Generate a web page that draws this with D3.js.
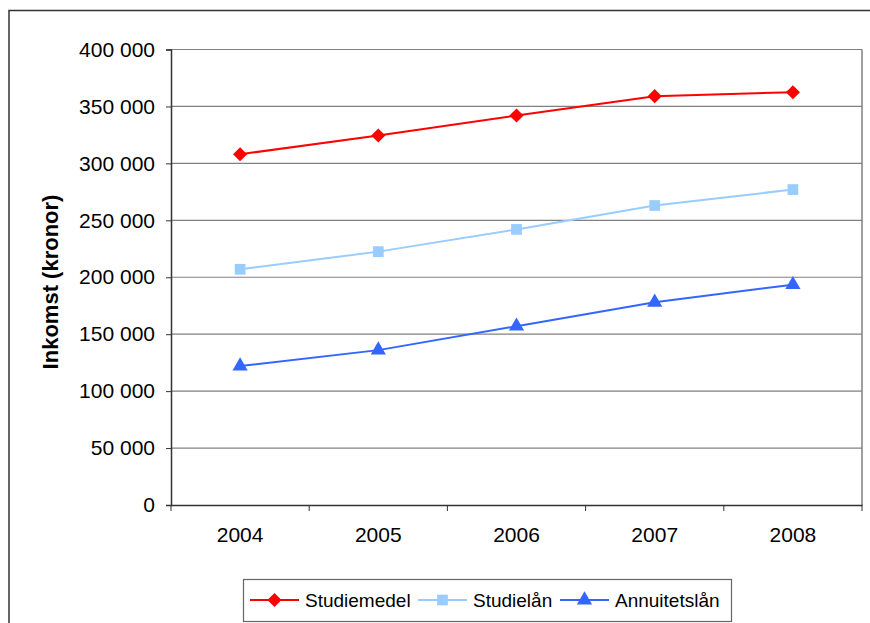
<!DOCTYPE html>
<meta charset="utf-8">
<style>
body { margin: 0; background: #fff; }
svg text { font-family: "Liberation Sans", Arial, sans-serif; fill: #000; }
.grid line { stroke: #808080; stroke-width: 1.2px; }
</style>
<body>
<svg id="chart" width="870" height="623"></svg>
<script src="https://d3js.org/d3.v7.min.js"></script>
<script>

var years = ["2004", "2005", "2006", "2007", "2008"];
var studiemedel = [308000, 324500, 342000, 359000, 362500];
var studielan = [207000, 222500, 242000, 263000, 277000];
var annuitetslan = [122000, 136000, 157000, 178000, 193500];
var yTicks = [0, 50000, 100000, 150000, 200000, 250000, 300000, 350000, 400000];

var series = [
  {name: "Studiemedel", values: studiemedel, color: "#ff0000", symbol: d3.symbolSquare, size: 100, rot: 45},
  {name: "Studielån", values: studielan, color: "#99ccff", symbol: d3.symbolSquare, size: 115, rot: 0},
  {name: "Annuitetslån", values: annuitetslan, color: "#3366ff", symbol: d3.symbolTriangle, size: 100, rot: 0}
];

var svg = d3.select("#chart");
var plotL = 171, plotR = 862, plotT = 49.5, plotB = 505;

// outer frame, runs off the right and bottom edges
svg.append("rect")
   .attr("x", 9).attr("y", 10.5)
   .attr("width", 900).attr("height", 700)
   .attr("fill", "none")
   .attr("stroke", "#333")
   .attr("stroke-width", 1.5);

var x = d3.scaleBand().domain(years).range([plotL, plotR]);
var y = d3.scaleLinear().domain([0, 400000]).range([plotB, plotT]);

var fmt = d => d3.format(",")(d).replace(/,/g, " ");

// gridlines
svg.append("g").attr("class", "grid")
   .selectAll("line")
   .data(yTicks.slice(1))
   .enter().append("line")
   .attr("x1", plotL).attr("x2", plotR)
   .attr("y1", d => y(d)).attr("y2", d => y(d));

// right border of plot area
svg.append("line")
   .attr("x1", plotR).attr("x2", plotR)
   .attr("y1", plotT).attr("y2", plotB)
   .attr("stroke", "#808080").attr("stroke-width", 1.5);

// y axis
var yAxis = svg.append("g")
   .attr("transform", "translate(" + plotL + ",0)")
   .call(d3.axisLeft(y).tickValues(yTicks).tickFormat(fmt).tickSize(5).tickPadding(11));
yAxis.select(".domain").attr("stroke", "#333").attr("stroke-width", 1.5);
yAxis.selectAll(".tick line").attr("stroke", "#333");
yAxis.selectAll("text").style("font-size", "21px").attr("font-family", null);

// x axis: ticks on the category boundaries
var xAxis = svg.append("g")
   .attr("transform", "translate(0," + plotB + ")")
   .call(d3.axisBottom(x).tickSize(0).tickPadding(22));
xAxis.select(".domain").attr("stroke", "#333").attr("stroke-width", 1.5);
xAxis.selectAll("text").style("font-size", "21px").attr("font-family", null);
xAxis.selectAll(".bound")
   .data(years.concat(["end"]))
   .enter().append("line")
   .attr("class", "bound")
   .attr("x1", (d, i) => plotL + i * x.bandwidth())
   .attr("x2", (d, i) => plotL + i * x.bandwidth())
   .attr("y1", 0).attr("y2", 6)
   .attr("stroke", "#333");

// y label
svg.append("text")
   .attr("transform", "translate(58,282) rotate(-90)")
   .attr("text-anchor", "middle")
   .style("font-size", "22px")
   .style("font-weight", "bold")
   .text("Inkomst (kronor)");

var line = d3.line()
   .x((d, i) => x(years[i]) + x.bandwidth() / 2)
   .y(d => y(d));

series.forEach(function(s) {
  svg.append("path")
     .attr("d", line(s.values))
     .attr("fill", "none")
     .attr("stroke", s.color)
     .attr("stroke-width", 2);
  svg.selectAll(null)
     .data(s.values)
     .enter().append("path")
     .attr("d", d3.symbol().type(s.symbol).size(s.size))
     .attr("transform", (d, i) => "translate(" + (x(years[i]) + x.bandwidth() / 2) + "," + y(d) + ") rotate(" + s.rot + ")")
     .attr("fill", s.color);
});

// legend
var legend = svg.append("g");
legend.append("rect")
   .attr("x", 243.5).attr("y", 579.5)
   .attr("width", 488).attr("height", 42)
   .attr("fill", "#fff")
   .attr("stroke", "#666")
   .attr("stroke-width", 1.2);

var legendX = [250, 418, 560];
series.forEach(function(s, i) {
  var g = legend.append("g").attr("transform", "translate(" + legendX[i] + ",600)");
  g.append("line")
   .attr("x1", 0).attr("x2", 49)
   .attr("stroke", s.color).attr("stroke-width", 2);
  g.append("path")
   .attr("d", d3.symbol().type(s.symbol).size(s.size))
   .attr("transform", "translate(24.5,0) rotate(" + s.rot + ")")
   .attr("fill", s.color);
  g.append("text")
   .attr("x", 55).attr("dy", "0.35em")
   .style("font-size", "19px")
   .text(s.name);
});

</script>
</body>
